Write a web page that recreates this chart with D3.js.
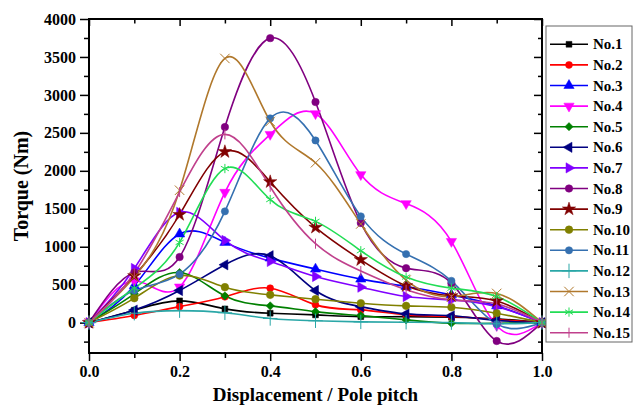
<!DOCTYPE html>
<html>
<head>
<meta charset="utf-8">
<script src="https://cdn.jsdelivr.net/npm/d3@7"></script>
<style>
  body { margin: 0; background: white; }
  text { font-family: "Liberation Serif", "Times New Roman", serif; font-weight: bold; fill: black; }
</style>
</head>
<body>
<svg id="chart" width="643" height="417"></svg>
<script>
  // displacement / pole pitch
  let xs = [0, 0.1, 0.2, 0.3, 0.4, 0.5, 0.6, 0.7, 0.8, 0.9, 1.0];
  let names = ["No.1","No.2","No.3","No.4","No.5","No.6","No.7","No.8","No.9","No.10","No.11","No.12","No.13","No.14","No.15"];

  // torque values (Nm)
  let no1  = [0, 163, 287, 181, 124, 102, 79, 79, 71, 50, 0];
  let no2  = [0, 95, 211, 340, 454, 234, 168, 102, 80, 40, 0];
  let no3  = [0, 485, 1168, 1057, 850, 705, 573, 476, 366, 221, 0];
  let no4  = [0, 551, 470, 1717, 2480, 2753, 1950, 1568, 1070, -40, 0];
  let no5  = [0, 379, 660, 352, 221, 145, 92, 36, -8, -8, 0];
  let no6  = [0, 165, 423, 762, 881, 423, 210, 115, 90, 30, 0];
  let no7  = [0, 713, 1453, 1083, 806, 608, 467, 344, 300, 211, 0];
  let no8  = [0, 660, 864, 2576, 3748, 2906, 1313, 718, 520, -242, 0];
  let no9  = [0, 617, 1423, 2251, 1855, 1255, 828, 485, 353, 285, 0];
  let no10 = [0, 322, 620, 467, 366, 309, 256, 221, 203, 124, 0];
  let no11 = [0, 423, 639, 1466, 2691, 2400, 1400, 903, 551, -20, 0];
  let no12 = [0, 124, 158, 130, 55, 25, 10, 5, 0, -15, 0];
  let no13 = [0, 600, 1744, 3480, 2650, 2106, 1300, 560, 344, 385, 0];
  let no14 = [0, 454, 1057, 2030, 1621, 1334, 947, 600, 454, 344, 0];
  let no15 = [0, 652, 1720, 2480, 1790, 1040, 680, 432, 300, 247, 0];

  let allSeries = [no1,no2,no3,no4,no5,no6,no7,no8,no9,no10,no11,no12,no13,no14,no15];
  let colors = ["#000000","#ff0000","#0000ff","#ff00ff","#008000","#000080","#8000ff","#800080",
                "#800000","#808000","#3570b0","#2aa7a7","#b0782c","#22dd55","#c0408c"];

  let xTicks = [0, 0.2, 0.4, 0.6, 0.8, 1.0];
  let yTicks = [0, 500, 1000, 1500, 2000, 2500, 3000, 3500, 4000];

  let svg = d3.select("#chart");
  let margin = {top: 19, bottom: 64, left: 89, right: 101};
  let width = +svg.attr("width"), height = +svg.attr("height");

  let x = d3.scaleLinear().domain([0, 1]).range([margin.left, width - margin.right]);
  let y = d3.scaleLinear().domain([-400, 4000]).range([height - margin.bottom, margin.top]);

  // marker shapes: [symbol type, rotation, filled]
  let vbar = { draw: function(ctx, size) { let r = Math.sqrt(size) * 0.6; ctx.moveTo(0, -r); ctx.lineTo(0, r); } };
  let markers = [
    [d3.symbolSquare, 0, true], [d3.symbolCircle, 0, true], [d3.symbolTriangle, 0, true],
    [d3.symbolTriangle, 180, true], [d3.symbolSquare, 45, true], [d3.symbolTriangle, -90, true],
    [d3.symbolTriangle, 90, true], [d3.symbolCircle, 0, true], [d3.symbolStar, 0, true],
    [d3.symbolCircle, 0, true], [d3.symbolCircle, 0, true], [d3.symbolPlus, 0, false],
    [d3.symbolTimes, 0, false], [d3.symbolAsterisk, 0, false], [vbar, 0, false]
  ];
  let sizes = [34, 38, 46, 46, 34, 46, 46, 44, 55, 46, 42, 70, 60, 60, 70];

  function drawMarker(g, i, cx, cy) {
    let m = markers[i];
    g.append("path")
      .attr("d", d3.symbol().type(m[0]).size(sizes[i])())
      .attr("transform", "translate(" + cx + "," + cy + ") rotate(" + m[1] + ")")
      .attr("fill", m[2] ? colors[i] : "none")
      .attr("stroke", colors[i])
      .attr("stroke-width", m[2] ? 0.5 : 1);
  }

  // axes
  let bottomMajor = d3.axisBottom(x).tickValues(xTicks).tickSize(8).tickPadding(5).tickFormat(d3.format(".1f"));
  let bottomMinor = d3.axisBottom(x).tickValues([0.1, 0.3, 0.5, 0.7, 0.9]).tickSize(5).tickFormat("");
  let leftMajor = d3.axisLeft(y).tickValues(yTicks).tickSize(9).tickPadding(4).tickFormat(d3.format("d"));
  let leftMinor = d3.axisLeft(y).tickValues([-250, 250, 750, 1250, 1750, 2250, 2750, 3250, 3750]).tickSize(5).tickFormat("");
  let topMajor = d3.axisTop(x).tickValues(xTicks).tickSize(-7).tickFormat("");
  let topMinor = d3.axisTop(x).tickValues([0.1, 0.3, 0.5, 0.7, 0.9]).tickSize(-4.5).tickFormat("");
  let rightMajor = d3.axisRight(y).tickValues(yTicks).tickSize(-8).tickFormat("");
  let rightMinor = d3.axisRight(y).tickValues([-250, 250, 750, 1250, 1750, 2250, 2750, 3250, 3750]).tickSize(-4).tickFormat("");

  let yb = height - margin.bottom, xr = width - margin.right;
  [[bottomMajor, "translate(0," + yb + ")"], [bottomMinor, "translate(0," + yb + ")"],
   [leftMajor, "translate(" + margin.left + ",0)"], [leftMinor, "translate(" + margin.left + ",0)"],
   [topMajor, "translate(0," + margin.top + ")"], [topMinor, "translate(0," + margin.top + ")"],
   [rightMajor, "translate(" + xr + ",0)"], [rightMinor, "translate(" + xr + ",0)"]].forEach(function(a) {
    let g = svg.append("g").attr("transform", a[1]).call(a[0]);
    g.select(".domain").remove();
    g.selectAll("line").attr("stroke", "black").attr("stroke-width", 1.5);
    g.selectAll("text").style("font-size", "16px").style("font-family", "Liberation Serif").style("font-weight", "bold").attr("fill", "black");
  });

  svg.append("rect")
    .attr("x", margin.left).attr("y", margin.top)
    .attr("width", xr - margin.left).attr("height", yb - margin.top)
    .attr("fill", "none").attr("stroke", "black").attr("stroke-width", 2);

  // curves
  let line = d3.line()
    .x(function(d, i) { return x(xs[i]); })
    .y(function(d) { return y(d); })
    .curve(d3.curveNatural);

  allSeries.forEach(function(s, i) {
    svg.append("path")
      .attr("d", line(s))
      .attr("fill", "none")
      .attr("stroke", colors[i])
      .attr("stroke-width", 1.6);
  });
  allSeries.forEach(function(s, i) {
    let g = svg.append("g");
    s.forEach(function(v, j) { drawMarker(g, i, x(xs[j]), y(v)); });
  });

  // axis titles
  svg.append("text")
    .attr("x", (margin.left + xr) / 2).attr("y", 401)
    .attr("text-anchor", "middle")
    .style("font-size", "19px")
    .text("Displacement / Pole pitch");

  svg.append("text")
    .attr("transform", "translate(28," + ((margin.top + yb) / 2) + ") rotate(-90)")
    .attr("text-anchor", "middle")
    .style("font-size", "20px")
    .text("Torque (Nm)");

  // legend
  let legend = svg.append("g");
  legend.append("rect")
    .attr("x", 546).attr("y", 26).attr("width", 86).attr("height", 316)
    .attr("fill", "white").attr("stroke", "#666").attr("stroke-width", 1);

  names.forEach(function(n, i) {
    let ly = 44.3 + i * 20.6;
    legend.append("line")
      .attr("x1", 550).attr("x2", 588).attr("y1", ly).attr("y2", ly)
      .attr("stroke", colors[i]).attr("stroke-width", 1.6);
    drawMarker(legend, i, 569, ly);
    legend.append("text")
      .attr("x", 593).attr("y", ly + 5)
      .style("font-size", "15px")
      .text(n);
  });
</script>
</body>
</html>
